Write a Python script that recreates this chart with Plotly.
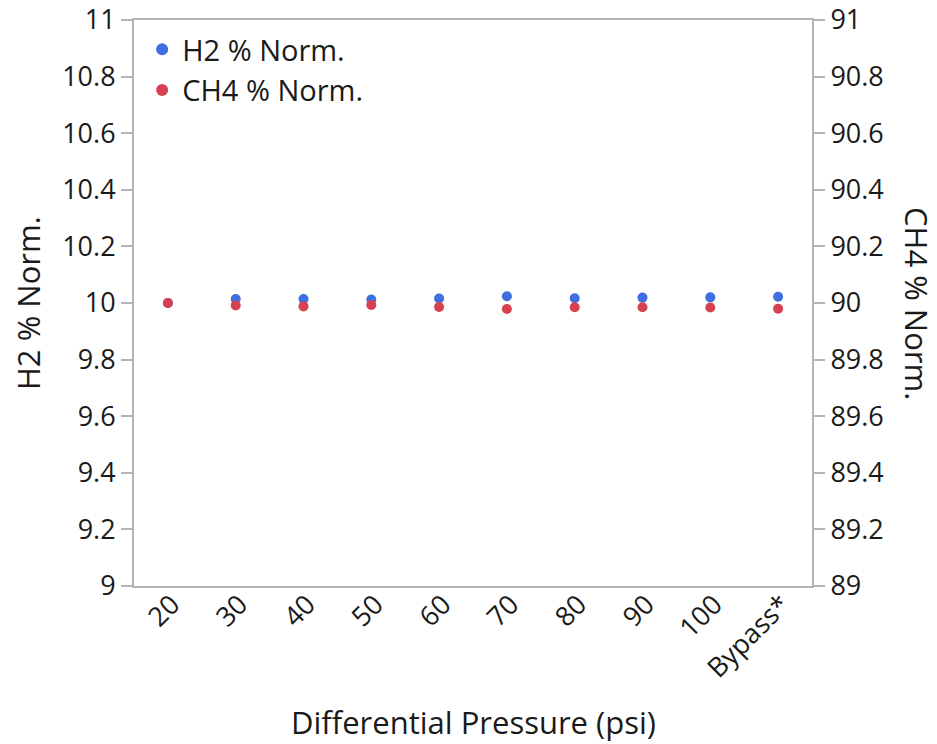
import plotly.graph_objects as go

# Differential pressure settings (categorical x axis)
pressure = ["20", "30", "40", "50", "60", "70", "80", "90", "100", "Bypass*"]

# Normalised gas composition at each setting
h2_norm = [10.000, 10.014, 10.014, 10.012, 10.016, 10.024, 10.017, 10.019, 10.020, 10.022]
ch4_norm = [90.000, 89.991, 89.988, 89.993, 89.986, 89.979, 89.985, 89.985, 89.984, 89.980]

# Tick labels for the two value axes
h2_ticks = [9, 9.2, 9.4, 9.6, 9.8, 10, 10.2, 10.4, 10.6, 10.8, 11]
h2_ticktext = ["9", "9.2", "9.4", "9.6", "9.8", "10", "10.2", "10.4", "10.6", "10.8", "11"]
ch4_ticks = [89, 89.2, 89.4, 89.6, 89.8, 90, 90.2, 90.4, 90.6, 90.8, 91]
ch4_ticktext = ["89", "89.2", "89.4", "89.6", "89.8", "90", "90.2", "90.4", "90.6", "90.8", "91"]

FONT = "Open Sans, Noto Sans, sans-serif"
AXIS_GREY = "#b4b4b4"
TEXT = "#1a1a1a"
TICK_SIZE = 27
TITLE_SIZE = 31

fig = go.Figure()
fig.add_trace(go.Scatter(
    x=pressure, y=h2_norm, mode="markers", name="H2 % Norm.",
    marker=dict(color="#3f6ee0", size=10), yaxis="y",
))
fig.add_trace(go.Scatter(
    x=pressure, y=ch4_norm, mode="markers", name="CH4 % Norm.",
    marker=dict(color="#d7404e", size=10), yaxis="y2",
))

fig.update_layout(
    width=937, height=744,
    margin=dict(l=134, r=125, t=20, b=158),
    paper_bgcolor="white", plot_bgcolor="white",
    font=dict(family=FONT, size=TICK_SIZE, color=TEXT),
    showlegend=True,
    legend=dict(
        x=0.012, y=0.993, xanchor="left", yanchor="top",
        bgcolor="rgba(0,0,0,0)", font=dict(size=29, color=TEXT),
        itemwidth=30, tracegroupgap=0, itemsizing="constant",
    ),
    xaxis=dict(
        type="category", range=[-0.5, 9.5], automargin=False,
        showline=True, linecolor=AXIS_GREY, linewidth=2, mirror=True,
        ticks="", showgrid=False, zeroline=False,
        tickangle=-45, tickfont=dict(size=TICK_SIZE, color=TEXT),
        ticklabelstandoff=-10, ticklabelshift=4,
    ),
    yaxis=dict(
        range=[9, 11], tickvals=h2_ticks, ticktext=h2_ticktext, automargin=False,
        showline=True, linecolor=AXIS_GREY, linewidth=2,
        ticks="outside", ticklen=11, tickcolor=AXIS_GREY, tickwidth=2,
        showgrid=False, zeroline=False, tickfont=dict(size=TICK_SIZE, color=TEXT),
        ticklabeloverflow="allow",
    ),
    yaxis2=dict(
        range=[89, 91], tickvals=ch4_ticks, ticktext=ch4_ticktext, automargin=False,
        overlaying="y", side="right",
        showline=True, linecolor=AXIS_GREY, linewidth=2,
        ticks="outside", ticklen=11, tickcolor=AXIS_GREY, tickwidth=2,
        showgrid=False, zeroline=False, tickfont=dict(size=TICK_SIZE, color=TEXT),
        ticklabeloverflow="allow",
    ),
)

# Axis titles
fig.add_annotation(
    text="Differential Pressure (psi)", xref="paper", yref="paper",
    x=0.5, y=0, yshift=-136, showarrow=False, yanchor="middle",
    font=dict(size=TITLE_SIZE, color=TEXT),
)
fig.add_annotation(
    text="H2 % Norm.", xref="paper", yref="paper", x=0, y=0.5,
    xshift=-106, showarrow=False, textangle=-90, xanchor="center",
    font=dict(size=TITLE_SIZE, color=TEXT),
)
fig.add_annotation(
    text="CH4 % Norm.", xref="paper", yref="paper", x=1.0, y=0.5,
    xshift=105, showarrow=False, textangle=90, xanchor="center",
    font=dict(size=TITLE_SIZE, color=TEXT),
)

fig.write_html("out.html")
